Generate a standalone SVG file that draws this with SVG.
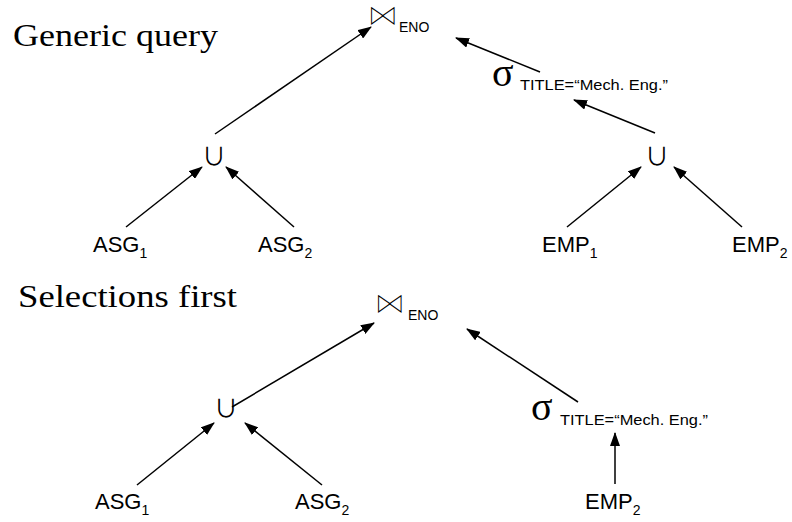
<svg xmlns="http://www.w3.org/2000/svg" width="792" height="522" viewBox="0 0 792 522">
  <defs>
    <marker id="arr" viewBox="0 0 14 10" refX="13" refY="5" markerWidth="14" markerHeight="10" markerUnits="userSpaceOnUse" orient="auto">
      <path d="M0,0 L14,5 L0,10 Z" fill="#000"/>
    </marker>
  </defs>
  <style>
    .title { font-family: "Liberation Serif", serif; font-size: 32px; fill: #000; }
    .rel { font-family: "Liberation Sans", Arial, sans-serif; font-size: 22px; fill: #000; }
    .sub { font-size: 14px; }
    .join { font-family: "DejaVu Sans", sans-serif; font-size: 17px; fill: #000; letter-spacing: -2.5px; }
    .union { font-family: "Noto Sans CJK JP", "DejaVu Sans", sans-serif; font-size: 24px; fill: #000; }
    .sig { font-family: "Liberation Serif", serif; font-size: 40px; fill: #000; }
    .pred { font-family: "Liberation Sans", Arial, sans-serif; font-size: 15px; fill: #000; }
    .eno { font-family: "Liberation Sans", Arial, sans-serif; font-size: 14px; fill: #000; }
    .edge { stroke: #000; stroke-width: 1.5; fill: none; marker-end: url(#arr); }
  </style>
  <rect width="792" height="522" fill="#fff"/>

  <text class="title" x="13" y="46" textLength="205" lengthAdjust="spacingAndGlyphs">Generic query</text>
  <text class="title" x="18" y="307" textLength="219" lengthAdjust="spacingAndGlyphs">Selections first</text>

  <!-- generic query plan -->
  <g id="join1">
    <text class="join" transform="translate(371,22) scale(1,1.4)">▷◁</text>
    <text class="eno" x="399" y="32">ENO</text>
  </g>
  <g id="select1">
    <text class="sig" x="492" y="86">σ</text>
    <text class="pred" x="520" y="90" textLength="148" lengthAdjust="spacingAndGlyphs">TITLE=“Mech. Eng.”</text>
  </g>
  <g id="union1"><text class="union" x="202" y="165">∪</text></g>
  <g id="union2"><text class="union" x="645" y="165">∪</text></g>
  <g id="asg1a"><text class="rel" x="93" y="252">ASG<tspan class="sub" dy="6">1</tspan></text></g>
  <g id="asg2a"><text class="rel" x="258" y="252">ASG<tspan class="sub" dy="6">2</tspan></text></g>
  <g id="emp1a"><text class="rel" x="542" y="252">EMP<tspan class="sub" dy="6">1</tspan></text></g>
  <g id="emp2a"><text class="rel" x="732" y="252">EMP<tspan class="sub" dy="6">2</tspan></text></g>

  <!-- selections-first plan -->
  <g id="join2">
    <text class="join" transform="translate(378,310) scale(1,1.4)">▷◁</text>
    <text class="eno" x="408" y="320">ENO</text>
  </g>
  <g id="select2">
    <text class="sig" x="531" y="420">σ</text>
    <text class="pred" x="560" y="425" textLength="148" lengthAdjust="spacingAndGlyphs">TITLE=“Mech. Eng.”</text>
  </g>
  <g id="union3"><text class="union" x="214" y="417">∪</text></g>
  <g id="asg1b"><text class="rel" x="95" y="509">ASG<tspan class="sub" dy="6">1</tspan></text></g>
  <g id="asg2b"><text class="rel" x="295" y="509">ASG<tspan class="sub" dy="6">2</tspan></text></g>
  <g id="emp2b"><text class="rel" x="585" y="509">EMP<tspan class="sub" dy="6">2</tspan></text></g>

  <g id="connectors">
    <line class="edge" x1="215" y1="134" x2="371" y2="27"/>
    <line class="edge" x1="540" y1="72" x2="456" y2="38"/>
    <line class="edge" x1="655" y1="133" x2="574" y2="100"/>
    <line class="edge" x1="126" y1="227" x2="202" y2="167"/>
    <line class="edge" x1="294" y1="227" x2="226" y2="167"/>
    <line class="edge" x1="567" y1="227" x2="641" y2="167"/>
    <line class="edge" x1="742" y1="227" x2="674" y2="167"/>

    <line class="edge" x1="232" y1="407" x2="374" y2="323"/>
    <line class="edge" x1="578" y1="402" x2="467" y2="329"/>
    <line class="edge" x1="615" y1="484" x2="615" y2="433"/>
    <line class="edge" x1="137" y1="485" x2="214" y2="423"/>
    <line class="edge" x1="322" y1="485" x2="245" y2="423"/>
  </g>
</svg>
